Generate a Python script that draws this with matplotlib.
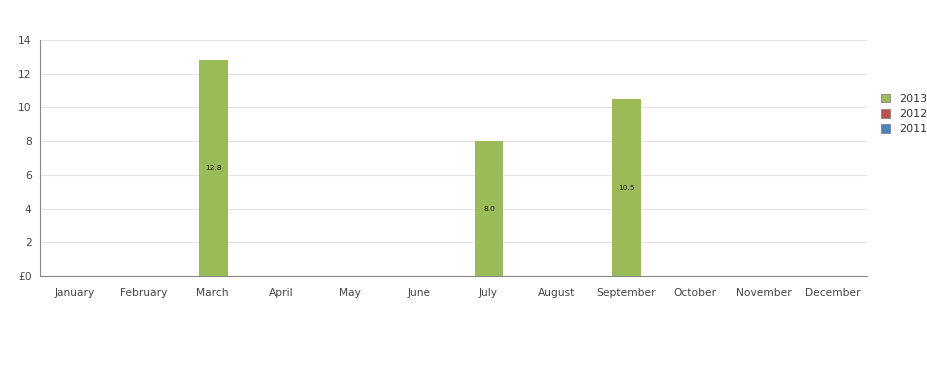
import matplotlib
matplotlib.use("Agg")
import matplotlib.pyplot as plt
import numpy as np
from matplotlib.patches import Patch

months = ["January", "February", "March", "April", "May", "June", "July",
          "August", "September", "October", "November", "December"]
v2013 = [0, 0, 12.8, 0, 0, 0, 8.0, 0, 10.5, 0, 0, 0]
v2012 = [0] * 12
v2011 = [0] * 12
yticks = [0, 2, 4, 6, 8, 10, 12, 14]
ytick_labels = ["£0", "2", "4", "6", "8", "10", "12", "14"]

c2013, c2012, c2011 = "#9bbb59", "#c0504d", "#4f81bd"

fig = plt.figure(figsize=(9.27, 3.68), dpi=100)
ax = fig.add_axes([40/927, 92/368, 827/927, 236/368])
x = np.arange(len(months))
w = 0.42
ax.bar(x + 0.015, v2011, w, color=c2011)
ax.bar(x + 0.015, v2012, w, bottom=v2011, color=c2012)
b = np.array(v2011) + np.array(v2012)
ax.bar(x + 0.015, v2013, w, bottom=b, color=c2013)
for xi, v, bb in zip(x, v2013, b):
    if v > 0:
        ax.text(xi + 0.015, bb + v / 2, f"{v:.1f}", ha="center", va="center", fontsize=5.3, color="#222222")

ax.set_xlim(-0.5, 11.5)
ax.set_ylim(0, 14)
ax.set_yticks(yticks)
ax.set_yticklabels(ytick_labels)
ax.set_xticks(x)
ax.set_xticklabels(months)
ax.tick_params(axis="both", length=0, labelsize=7.7, colors="#444444", pad=6)
ax.tick_params(axis="x", pad=9)
ax.grid(axis="y", color="#e3e3e3", linewidth=0.8)
ax.set_axisbelow(True)
for s in ["top", "right"]:
    ax.spines[s].set_visible(False)
for s in ["left", "bottom"]:
    ax.spines[s].set_color("#888888")
    ax.spines[s].set_linewidth(0.8)

handles = [Patch(facecolor=c2013, edgecolor="#777777", linewidth=0.5, label="2013"),
           Patch(facecolor=c2012, edgecolor="#777777", linewidth=0.5, label="2012"),
           Patch(facecolor=c2011, edgecolor="#777777", linewidth=0.5, label="2011")]
fig.legend(handles=handles, loc="center left", bbox_to_anchor=(0.950, 0.69), frameon=False,
           fontsize=8, handlelength=0.8, handleheight=0.8, handletextpad=0.9,
           labelspacing=0.45, borderaxespad=0, borderpad=0, labelcolor="#333333")

fig.savefig("out.png", dpi=100)
